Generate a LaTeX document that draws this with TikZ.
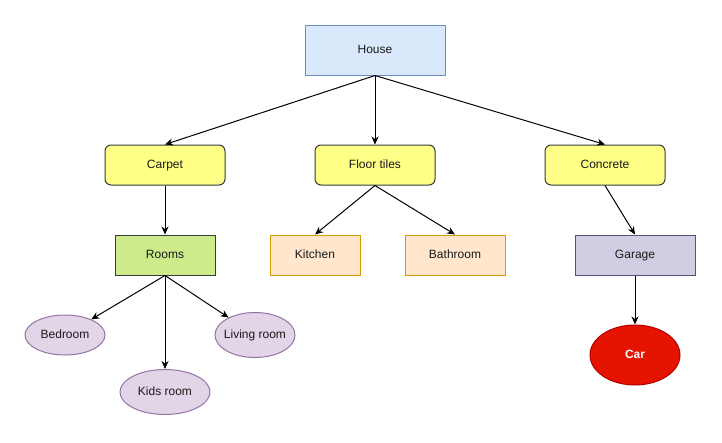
\documentclass[tikz,border=0pt]{standalone}
\usepackage{fontspec}
\setmainfont{Liberation Sans}
\usetikzlibrary{shapes.geometric, arrows.meta}

\definecolor{houseFill}{HTML}{DAE8FC}
\definecolor{houseLine}{HTML}{6C8EBF}
\definecolor{floorFill}{HTML}{FFFF88}
\definecolor{darkLine}{HTML}{36393D}
\definecolor{roomsFill}{HTML}{CDEB8B}
\definecolor{spaceFill}{HTML}{FFE6CC}
\definecolor{spaceLine}{HTML}{D79B00}
\definecolor{garageFill}{HTML}{D0CEE2}
\definecolor{garageLine}{HTML}{56517E}
\definecolor{roomFill}{HTML}{E1D5E7}
\definecolor{roomLine}{HTML}{9673A6}
\definecolor{carFill}{HTML}{E51400}
\definecolor{carLine}{HTML}{B20000}
\definecolor{textDark}{HTML}{1A1A1A}

\tikzset{
    box/.style={draw, rectangle, inner sep=0pt, text=textDark, text height=9pt, text depth=3pt},
    house/.style={box, fill=houseFill, draw=houseLine, minimum width=140, minimum height=50},
    floor/.style={box, fill=floorFill, draw=darkLine, rounded corners=6pt, minimum width=120, minimum height=40},
    rooms/.style={box, fill=roomsFill, draw=darkLine, minimum width=100, minimum height=40},
    space/.style={box, fill=spaceFill, draw=spaceLine, minimum height=40},
    garage/.style={box, fill=garageFill, draw=garageLine, minimum width=120, minimum height=40},
    room/.style={draw=roomLine, fill=roomFill, ellipse, inner sep=0pt, text=textDark, text height=9pt, text depth=3pt},
    car/.style={draw=carLine, fill=carFill, ellipse, inner sep=0pt, text=white, font=\fontsize{12}{14}\selectfont\bfseries,
        text height=9pt, text depth=3pt, minimum width=90, minimum height=60}
}

\begin{document}
\begin{tikzpicture}[>={Stealth[length=8pt,width=7pt]}, x=1pt, y=-1pt, line width=1pt,
    font=\fontsize{12}{14}\selectfont]
    \useasboundingbox (0,0) rectangle (722,442);

    % Top
    \node[house] (house) at (375, 50) {House};

    % Floors
    \node[floor] (carpet) at (165, 165) {Carpet};
    \node[floor] (tiles) at (375, 165) {Floor tiles};
    \node[floor] (concrete) at (605, 165) {Concrete};
    \draw[->] (house.south) -- (carpet.north);
    \draw[->] (house.south) -- (tiles.north);
    \draw[->] (house.south) -- (concrete.north);

    % Spaces
    \node[rooms] (rooms) at (165, 255) {Rooms};
    \node[space, minimum width=90] (kitchen) at (315, 255) {Kitchen};
    \node[space, minimum width=100] (bathroom) at (455, 255) {Bathroom};
    \node[garage] (garage) at (635, 255) {Garage};
    \draw[->] (carpet) -- (rooms);
    \draw[->] (tiles.south) -- (kitchen.north);
    \draw[->] (tiles.south) -- (bathroom.north);
    \draw[->] (concrete.south) -- (garage.north);

    % Rooms
    \node[room, minimum width=80, minimum height=40] (bedroom) at (65, 335) {\makebox[0pt]{Bedroom}};
    \node[room, minimum width=80, minimum height=45] (living) at (255, 335) {\makebox[0pt]{Living room}};
    \node[room, minimum width=90, minimum height=45] (kids) at (165, 392) {\makebox[0pt]{Kids room}};
    \draw[->] (rooms.south) -- (bedroom);
    \draw[->] (rooms.south) -- (kids);
    \draw[->] (rooms.south) -- (living);

    % Garage
    \node[car] (car) at (635, 355) {Car};
    \draw[->] (garage) -- (car);
\end{tikzpicture}
\end{document}
